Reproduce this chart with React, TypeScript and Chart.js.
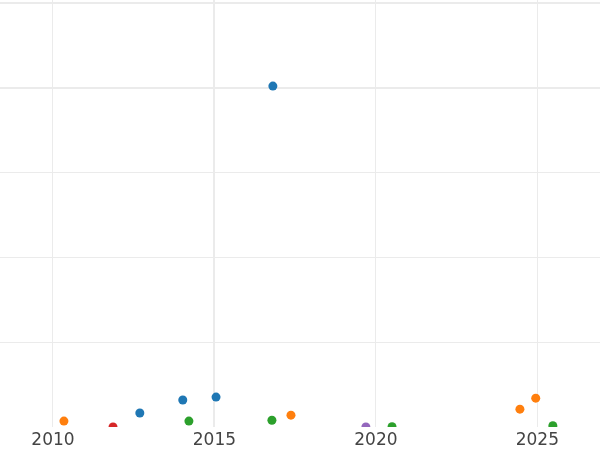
import React, { useEffect, useRef } from "react";
import { Chart, registerables } from "chart.js";

Chart.register(...registerables);

const xTicks = [2010, 2015, 2020, 2025];

const blueX = [2012.69, 2014.02, 2015.05, 2016.81];
const blueY = [16.5, 31.8, 35.3, 402];
const orangeX = [2010.34, 2017.37, 2024.46, 2024.95];
const orangeY = [7, 14, 21, 34];
const greenX = [2014.21, 2016.78, 2020.5, 2025.48];
const greenY = [7, 8, 0.3, 1.5];
const redX = [2011.86];
const redY = [0];
const purpleX = [2019.69];
const purpleY = [0];

const seriesColors = ["#1f77b4", "#ff7f0e", "#2ca02c", "#d62728", "#9467bd"];

const toPts = (xs: number[], ys: number[]) => xs.map((x, i) => ({ x, y: ys[i] }));

export default function App() {
  const ref = useRef<HTMLCanvasElement | null>(null);
  useEffect(() => {
    document.body.style.margin = "0";
    const series = [
      toPts(blueX, blueY),
      toPts(orangeX, orangeY),
      toPts(greenX, greenY),
      toPts(redX, redY),
      toPts(purpleX, purpleY),
    ];
    const chart = new Chart(ref.current!, {
      type: "scatter",
      data: {
        datasets: series.map((d, i) => ({
          data: d,
          backgroundColor: seriesColors[i],
          borderColor: seriesColors[i],
          borderWidth: 0,
          pointRadius: 4.5,
          clip: 0,
        })),
      },
      options: {
        animation: false,
        responsive: true,
        maintainAspectRatio: false,
        layout: { padding: 0, autoPadding: false },
        plugins: { legend: { display: false }, tooltip: { enabled: false } },
        scales: {
          x: {
            type: "linear",
            min: 2008.36,
            max: 2026.94,
            afterBuildTicks: (s: any) => {
              s.ticks = xTicks.map((v) => ({ value: v }));
            },
            afterFit: (s: any) => {
              s.height = 23;
            },
            ticks: {
              callback: (v: any) => String(v),
              color: "#444444",
              font: { family: "DejaVu Sans", size: 17 },
              padding: 3,
              maxRotation: 0,
            },
            grid: {
              color: "#ebebeb",
              lineWidth: (ctx: any) => (ctx.tick && ctx.tick.value === 2015 ? 2 : 1),
              drawTicks: false,
            },
            border: { display: false },
          },
          y: {
            type: "linear",
            min: 0,
            max: 503.5,
            afterBuildTicks: (s: any) => {
              s.ticks = [100, 200, 300, 400, 500].map((v) => ({ value: v }));
            },
            afterFit: (s: any) => {
              s.width = 0;
            },
            ticks: { display: false },
            grid: {
              color: "#ebebeb",
              lineWidth: (ctx: any) => (ctx.tick && ctx.tick.value >= 400 ? 2 : 1),
              drawTicks: false,
            },
            border: { display: false },
          },
        },
      },
    });
    return () => chart.destroy();
  }, []);
  return (
    <div style={{ width: 600, height: 450, position: "relative" }}>
      <canvas ref={ref} />
    </div>
  );
}
